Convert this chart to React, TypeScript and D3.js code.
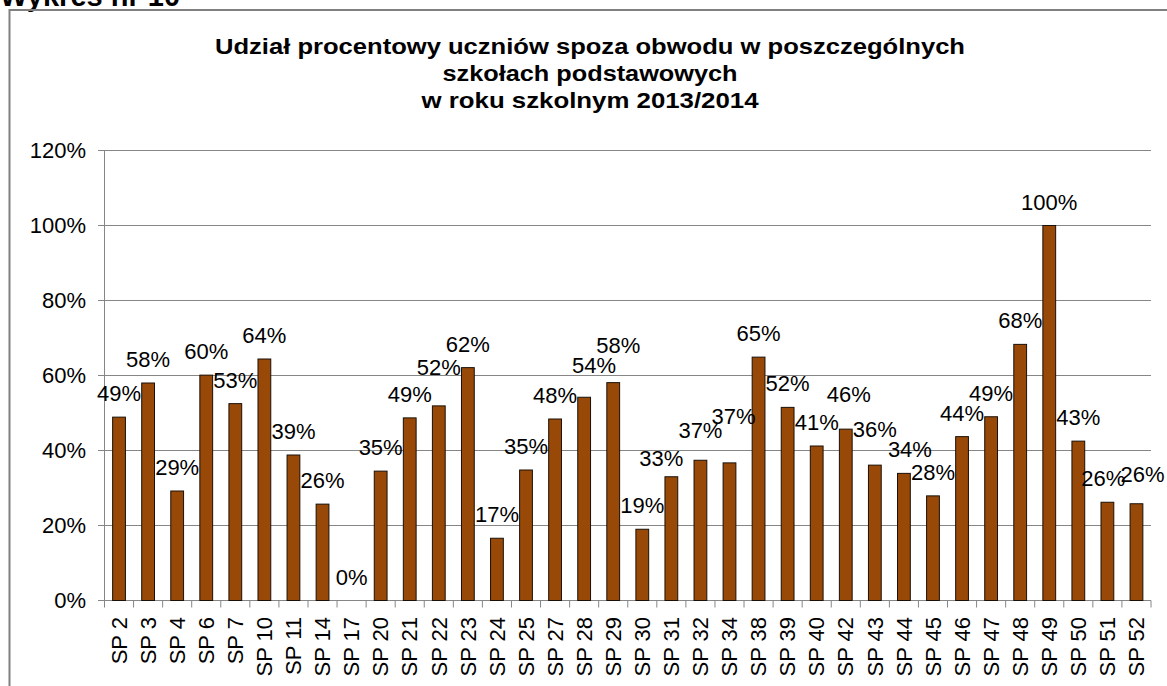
import React from "react";
import * as d3 from "d3";

const categories = [
  "SP 2", "SP 3", "SP 4", "SP 6", "SP 7", "SP 10", "SP 11", "SP 14", "SP 17", "SP 20",
  "SP 21", "SP 22", "SP 23", "SP 24", "SP 25", "SP 27", "SP 28", "SP 29", "SP 30", "SP 31",
  "SP 32", "SP 34", "SP 38", "SP 39", "SP 40", "SP 42", "SP 43", "SP 44", "SP 45", "SP 46",
  "SP 47", "SP 48", "SP 49", "SP 50", "SP 51", "SP 52",
];

const values = [
  48.9, 58.0, 29.2, 60.1, 52.5, 64.4, 38.8, 25.7, 0, 34.5,
  48.7, 51.9, 62.1, 16.6, 34.8, 48.4, 54.2, 58.1, 19.0, 33.0,
  37.4, 36.7, 64.9, 51.5, 41.2, 45.7, 36.1, 33.9, 27.9, 43.7,
  49.0, 68.3, 100, 42.5, 26.2, 25.8,
];

const yTicks = [0, 20, 40, 60, 80, 100, 120];

const titleLines = [
  "Udział procentowy uczniów spoza obwodu w poszczególnych",
  "szkołach podstawowych",
  "w roku szkolnym 2013/2014",
];
const titleWidths = [750, 295, 337];

// label nudges (layout only): [dx, dy]
const labelNudge: Record<string, [number, number]> = {
  "SP 22": [0, -15],
  "SP 28": [10, -8],
  "SP 29": [5, -14],
  "SP 31": [-10, 5],
  "SP 32": [0, -6],
  "SP 34": [4, -23],
  "SP 42": [3, -11],
  "SP 43": [0, -12],
  "SP 44": [6, 0],
  "SP 51": [-4, 0],
  "SP 52": [6, -6],
};

const W = 1167;
const H = 686;
const left = 104.5;
const right = 1151;
const top = 150.5;
const bottom = 600.5;
const FONT = "'Liberation Sans', Arial, sans-serif";

export default function App() {
  const x = d3
    .scaleBand<string>()
    .domain(categories)
    .range([left, right])
    .paddingInner(0.56)
    .paddingOuter(0.28);
  const y = d3.scaleLinear().domain([0, 120]).range([bottom, top]);
  const step = x.step();
  const bw = x.bandwidth();
  const boundaries = d3.range(categories.length + 1).map((i) => left + i * step);

  return (
    <svg
      width={W}
      height={H}
      style={{ position: "absolute", left: 0, top: 0, background: "#fff" }}
      fontFamily={FONT}
    >
      <rect x={0} y={0} width={W} height={H} fill="#fff" />
      <text x={0} y={6} fontSize={29} fontWeight="bold" fill="#000">
        Wykres nr 10
      </text>
      <rect x={9.5} y={10} width={W} height={H} fill="none" stroke="#808080" strokeWidth={2} />

      {titleLines.map((t, i) => (
        <text
          key={i}
          x={590}
          y={54 + i * 27}
          textAnchor="middle"
          fontSize={22}
          fontWeight="bold"
          fill="#000"
          textLength={titleWidths[i]}
          lengthAdjust="spacingAndGlyphs"
        >
          {t}
        </text>
      ))}

      {/* gridlines */}
      {yTicks.map((t) => (
        <line key={t} x1={left - 6.5} x2={right} y1={y(t)} y2={y(t)} stroke="#868686" strokeWidth={1} />
      ))}
      {/* y axis */}
      <line x1={left} x2={left} y1={top} y2={bottom} stroke="#868686" strokeWidth={1} />
      {yTicks.map((t) => (
        <text
          key={"yl" + t}
          x={86}
          y={y(t)}
          dy="0.35em"
          textAnchor="end"
          fontSize={22}
          fill="#000"
        >
          {t + "%"}
        </text>
      ))}
      {/* x ticks */}
      {boundaries.map((b, i) => (
        <line key={"xt" + i} x1={b} x2={b} y1={bottom} y2={bottom + 7} stroke="#868686" strokeWidth={1} />
      ))}

      {/* bars */}
      {categories.map((c, i) => {
        const v = values[i];
        const h = bottom - y(v);
        return h > 0 ? (
          <rect
            key={"b" + c}
            x={x(c) as number}
            y={y(v)}
            width={bw}
            height={h}
            fill="#984807"
            stroke="#1a1008"
            strokeWidth={1}
          />
        ) : null;
      })}

      {/* data labels */}
      {categories.map((c, i) => {
        const v = values[i];
        const [dx, dy] = labelNudge[c] || [0, 0];
        return (
          <text
            key={"l" + c}
            x={(x(c) as number) + bw / 2 + dx}
            y={y(v) - 16 + dy}
            textAnchor="middle"
            fontSize={22}
            fill="#000"
          >
            {Math.round(v) + "%"}
          </text>
        );
      })}

      {/* x labels */}
      {categories.map((c) => {
        const cx = (x(c) as number) + bw / 2;
        const ty = 617;
        return (
          <text
            key={"xl" + c}
            transform={`translate(${cx},${ty}) rotate(-90)`}
            textAnchor="end"
            dy="0.35em"
            fontSize={22}
            fill="#000"
          >
            {c}
          </text>
        );
      })}
    </svg>
  );
}
